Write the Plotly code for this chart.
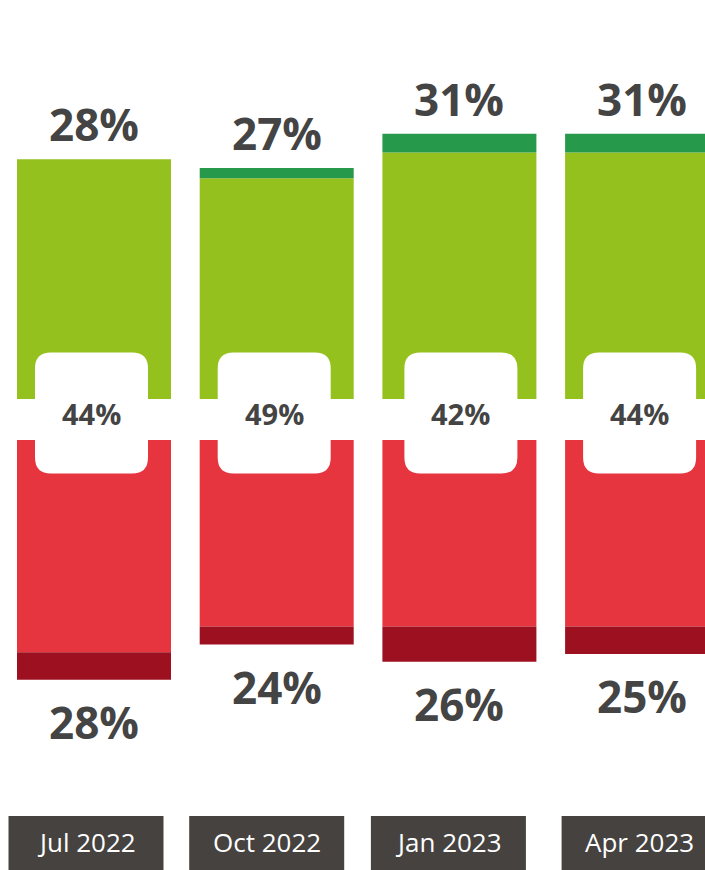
import plotly.graph_objects as go

# ---- data ----
categories = ["Jul 2022", "Oct 2022", "Jan 2023", "Apr 2023"]
strongly_positive = [0.0, 1.2, 2.2, 2.2]
positive = [28.0, 25.8, 28.8, 28.8]
neutral = [44, 49, 42, 44]
negative = [24.8, 21.8, 21.8, 21.8]
strongly_negative = [3.2, 2.1, 4.1, 3.2]

# ---- style ----
W, H = 705, 870
LIGHT_GREEN = "#95C11F"
DARK_GREEN = "#27994A"
RED = "#E73540"
DARK_RED = "#9C1020"
TEXT = "#444444"
BOX = "#45423F"
FONT = "Open Sans"

PX_PER_UNIT = 8.56
POS_ZERO_PX = 399   # pixel row of zero line for positive bars
NEG_ZERO_PX = 440   # pixel row of zero line for negative bars

pos_dom_bottom = 1 - POS_ZERO_PX / H
neg_dom_top = 1 - NEG_ZERO_PX / H
pos_range = [0, POS_ZERO_PX / PX_PER_UNIT]
neg_range = [-(H - NEG_ZERO_PX) / PX_PER_UNIT, 0]

SPACING = 182.7
FIRST_CENTER = 94
x_range = [-FIRST_CENTER / SPACING, (W - FIRST_CENTER) / SPACING]

fig = go.Figure()
fig.add_bar(x=categories, y=positive, marker_color=LIGHT_GREEN, yaxis="y",
            marker_line_width=0, hoverinfo="skip")
fig.add_bar(x=categories, y=strongly_positive, marker_color=DARK_GREEN, yaxis="y",
            marker_line_width=0, hoverinfo="skip")
fig.add_bar(x=categories, y=[-v for v in negative], marker_color=RED, yaxis="y2",
            marker_line_width=0, hoverinfo="skip")
fig.add_bar(x=categories, y=[-v for v in strongly_negative], marker_color=DARK_RED, yaxis="y2",
            marker_line_width=0, hoverinfo="skip")


def rounded_rect(w, h, r, dx=0.0):
    a, b = w / 2, h / 2
    l, rr = -a + dx, a + dx
    return (f"M {l + r},{-b} L {rr - r},{-b} Q {rr},{-b} {rr},{-b + r} "
            f"L {rr},{b - r} Q {rr},{b} {rr - r},{b} L {l + r},{b} "
            f"Q {l},{b} {l},{b - r} L {l},{-b + r} Q {l},{-b} {l + r},{-b} Z")


MID_Y = 1 - 413 / H
LABEL_TOP_PX = 816
LABEL_DX = [-8, -10, -11, -3]
MID_DX = [-2.5, -2.5, 1.5, -2.5]
shapes = []
annotations = []
for i, cat in enumerate(categories):
    # neutral rounded white box
    shapes.append(dict(type="path", xref="x", yref="paper", xsizemode="pixel", ysizemode="pixel",
                       xanchor=i, yanchor=MID_Y, path=rounded_rect(113, 121, 16, MID_DX[i]),
                       fillcolor="white", line_width=0, layer="above"))
    annotations.append(dict(x=cat, y=1 - 413 / H, xref="x", yref="paper", text=f"<b>{neutral[i]}%</b>",
                            showarrow=False, yanchor="middle", xshift=MID_DX[i],
                            font=dict(family=FONT, size=29, color=TEXT)))
    pos_total = positive[i] + strongly_positive[i]
    neg_total = negative[i] + strongly_negative[i]
    annotations.append(dict(x=cat, y=pos_total, xref="x", yref="y", text=f"<b>{round(pos_total)}%</b>",
                            showarrow=False, yanchor="middle", yshift=35,
                            font=dict(family=FONT, size=44, color=TEXT)))
    annotations.append(dict(x=cat, y=-neg_total, xref="x", yref="y2", text=f"<b>{round(neg_total)}%</b>",
                            showarrow=False, yanchor="middle", yshift=-42,
                            font=dict(family=FONT, size=44, color=TEXT)))
    # category label box
    dx = LABEL_DX[i]
    shapes.append(dict(type="rect", xref="x", yref="paper", xsizemode="pixel", ysizemode="pixel",
                       xanchor=i, yanchor=0, x0=-77.5 + dx, x1=77.5 + dx,
                       y0=-10, y1=H - LABEL_TOP_PX, fillcolor=BOX, line_width=0, layer="above"))
    annotations.append(dict(x=cat, y=(H - 842) / H, xref="x", yref="paper", text=cat,
                            showarrow=False, yanchor="middle", xshift=dx,
                            font=dict(family=FONT, size=26, color="white")))

fig.update_layout(
    width=W, height=H,
    margin=dict(l=0, r=0, t=0, b=0),
    paper_bgcolor="white", plot_bgcolor="white",
    barmode="relative", bargap=1 - 154 / SPACING,
    showlegend=False,
    xaxis=dict(range=x_range, visible=False, fixedrange=True),
    yaxis=dict(domain=[pos_dom_bottom, 1], range=pos_range, visible=False, fixedrange=True),
    yaxis2=dict(domain=[0, neg_dom_top], range=neg_range, visible=False, fixedrange=True, anchor="x"),
    shapes=shapes,
    annotations=annotations,
)

fig.write_html("out.html", config={"displayModeBar": False})
